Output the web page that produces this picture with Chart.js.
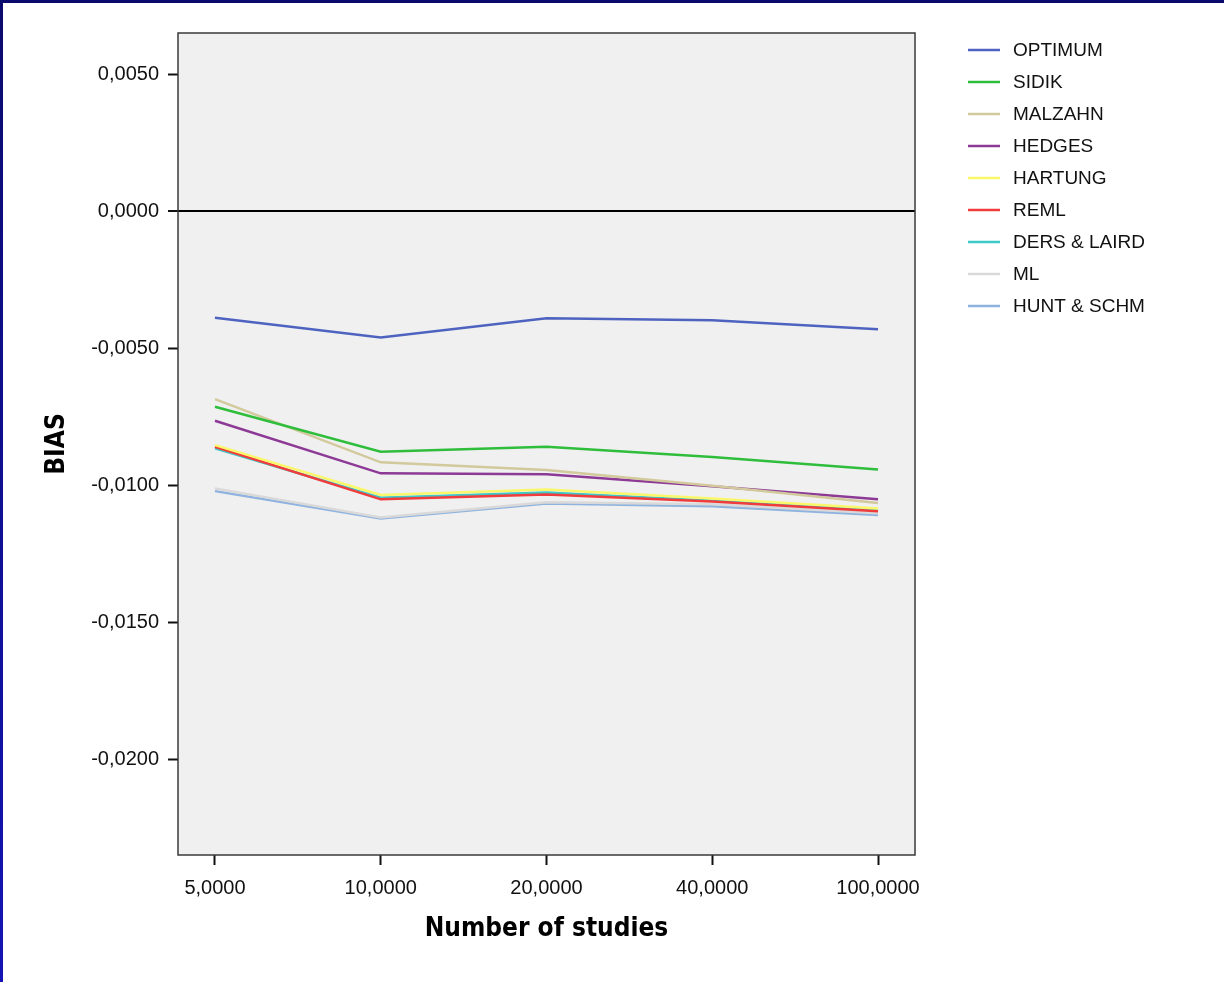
<!DOCTYPE html>
<html>
<head>
<meta charset="utf-8">
<script src="https://cdn.jsdelivr.net/npm/chart.js@4.4.1/dist/chart.umd.min.js"></script>
<style>
  html, body { margin: 0; padding: 0; }
  body { width: 1224px; height: 982px; background: linear-gradient(180deg, #0a0a6e 0%, #1414b4 100%); position: relative; overflow: hidden; }
  #wrap { position: absolute; left: 3px; top: 3px; width: 1221px; height: 979px; background: #ffffff; }
</style>
</head>
<body>
<div id="wrap"><canvas id="c"></canvas></div>
<script>
const categories = ['5,0000', '10,0000', '20,0000', '40,0000', '100,0000'];
const yTicks = [-0.02, -0.015, -0.01, -0.005, 0, 0.005];

const optimum  = [-0.00389, -0.00461, -0.00391, -0.00398, -0.00431];
const sidik    = [-0.00714, -0.00878, -0.00860, -0.00897, -0.00943];
const malzahn  = [-0.00686, -0.00917, -0.00945, -0.01002, -0.01065];
const hedges   = [-0.00765, -0.00957, -0.00960, -0.01004, -0.01052];
const hartung  = [-0.00854, -0.01036, -0.01016, -0.01049, -0.01085];
const reml     = [-0.00860, -0.01052, -0.01034, -0.01060, -0.01095];
const dersLaird= [-0.00866, -0.01046, -0.01027, -0.01057, -0.01093];
const ml       = [-0.01012, -0.01118, -0.01063, -0.01070, -0.01103];
const huntSchm = [-0.01022, -0.01122, -0.01067, -0.01077, -0.01109];

const seriesNames = ['OPTIMUM','SIDIK','MALZAHN','HEDGES','HARTUNG','REML','DERS & LAIRD','ML','HUNT & SCHM'];
const seriesValues = [optimum, sidik, malzahn, hedges, hartung, reml, dersLaird, ml, huntSchm];
const seriesColors = ['#4e63c0','#2fbd3c','#d2c99c','#8c3a96','#fbf76a','#f03c3c','#3ec8c8','#d9d9d9','#8fb3df'];

const datasets = seriesNames.map((name, i) => ({
  label: name,
  data: seriesValues[i].map((v, j) => ({ x: j, y: v })),
  borderColor: seriesColors[i],
  backgroundColor: seriesColors[i],
  borderWidth: 2.5,
  pointRadius: 0,
  pointHoverRadius: 0,
  tension: 0,
  fill: false
}));

const areaPlugin = {
  id: 'areaPlugin',
  beforeDraw(chart) {
    const { ctx, chartArea: a } = chart;
    ctx.save();
    ctx.fillStyle = '#f0f0f0';
    ctx.fillRect(a.left, a.top, a.right - a.left, a.bottom - a.top);
    ctx.restore();
  },
  afterDraw(chart) {
    const { ctx, chartArea: a } = chart;
    ctx.save();
    ctx.strokeStyle = '#3a3a3a';
    ctx.lineWidth = 1.5;
    ctx.strokeRect(a.left, a.top, a.right - a.left, a.bottom - a.top);
    // legend
    ctx.font = '19px "Liberation Sans", Arial, sans-serif';
    ctx.textBaseline = 'middle';
    ctx.textAlign = 'left';
    chart.data.datasets.forEach((ds, i) => {
      const y = 47 + 32 * i;
      ctx.strokeStyle = ds.borderColor;
      ctx.lineWidth = 2.5;
      ctx.beginPath();
      ctx.moveTo(965, y);
      ctx.lineTo(997, y);
      ctx.stroke();
      ctx.fillStyle = '#111111';
      ctx.fillText(ds.label, 1010, y + 1);
    });
    ctx.restore();
  }
};

const fmt = v => (Math.abs(v) < 1e-12 ? '0,0000' : v.toFixed(4).replace('.', ','));

new Chart(document.getElementById('c'), {
  type: 'line',
  data: { datasets },
  options: {
    responsive: true,
    maintainAspectRatio: false,
    animation: false,
    events: [],
    layout: { padding: { left: 0, top: 30, right: 309, bottom: 0 } },
    plugins: { legend: { display: false }, tooltip: { enabled: false } },
    scales: {
      x: {
        type: 'linear',
        min: -0.223,
        max: 4.223,
        afterBuildTicks: s => { s.ticks = categories.map((c, i) => ({ value: i })); },
        afterFit: s => { s.height = 127; },
        ticks: {
          callback: v => categories[v],
          color: '#111111',
          font: { family: '"Liberation Sans", Arial, sans-serif', size: 20 },
          padding: 11,
          maxRotation: 0,
          autoSkip: false
        },
        grid: { color: 'transparent', tickColor: '#111111', tickLength: 10, tickWidth: 2, drawOnChartArea: false },
        border: { display: false },
        title: {
          display: true,
          text: 'Number of studies',
          color: '#000',
          font: { family: '"DejaVu Sans Condensed", "DejaVu Sans", sans-serif', weight: 'bold', size: 26 },
          padding: { top: 0, bottom: 37 }
        }
      },
      y: {
        type: 'linear',
        min: -0.0235,
        max: 0.0065,
        afterBuildTicks: s => { s.ticks = yTicks.map(v => ({ value: v })); },
        afterFit: s => { s.width = 175; },
        ticks: {
          callback: v => fmt(v),
          color: '#111111',
          font: { family: '"Liberation Sans", Arial, sans-serif', size: 20 },
          padding: 9
        },
        grid: {
          color: ctx => (ctx.tick && Math.abs(ctx.tick.value) < 1e-12 ? '#000000' : 'transparent'),
          lineWidth: ctx => (ctx.tick && Math.abs(ctx.tick.value) < 1e-12 ? 2 : 1),
          tickColor: '#111111',
          tickLength: 10,
          tickWidth: 2
        },
        border: { display: false },
        title: {
          display: true,
          text: 'BIAS',
          color: '#000',
          font: { family: '"DejaVu Sans Condensed", "DejaVu Sans", sans-serif', weight: 'bold', size: 26 },
          padding: { top: 39, bottom: 0 }
        }
      }
    }
  },
  plugins: [areaPlugin]
});
</script>
</body>
</html>
